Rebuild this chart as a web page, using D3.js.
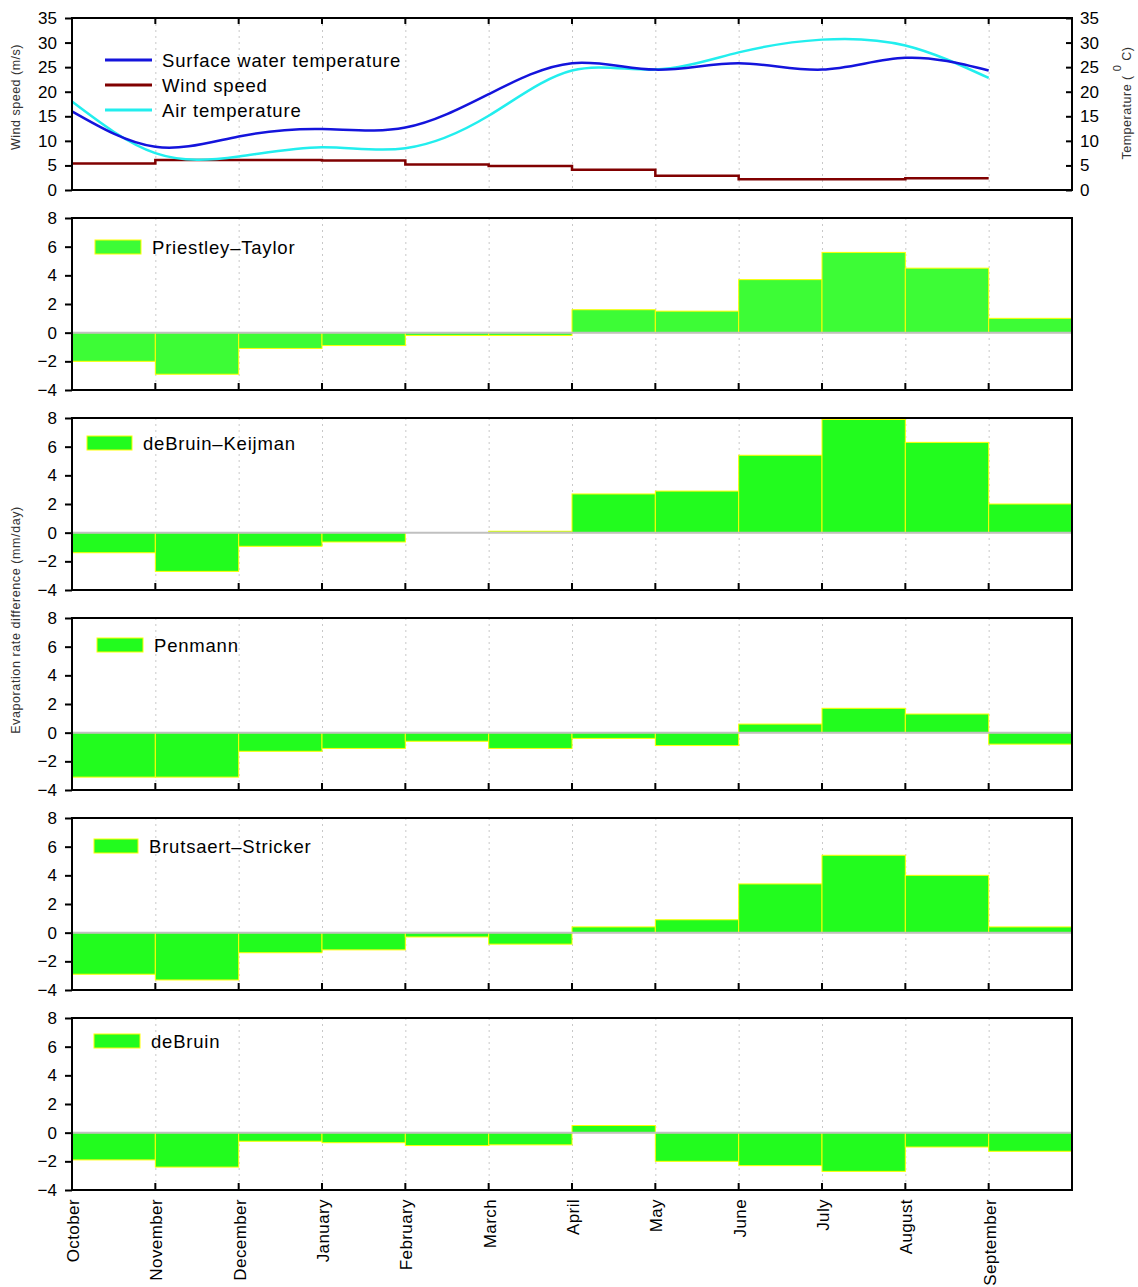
<!DOCTYPE html>
<html>
<head>
<meta charset="utf-8">
<script src="https://cdn.jsdelivr.net/npm/d3@7"></script>
<style>
  html, body { margin: 0; padding: 0; background: #fff; }
  svg { display: block; font-family: "Liberation Sans", Arial, sans-serif; }
</style>
</head>
<body>
<svg id="chart" width="1138" height="1287"></svg>
<script>
// ---- data ----
const months = ["October","November","December","January","February","March",
                "April","May","June","July","August","September"];

const waterTemp = [16.0, 8.8, 10.9, 12.4, 12.7, 19.5, 25.8, 24.5, 25.8, 24.5, 26.9, 24.3];
const airTemp   = [18.0, 7.5, 6.8, 8.7, 8.5, 15.1, 24.3, 24.5, 28.0, 30.6, 29.4, 22.8];
const windSpeed = [5.4, 6.1, 6.1, 6.0, 5.2, 4.9, 4.1, 2.9, 2.2, 2.2, 2.4, 2.4];

const topTicks = [0, 5, 10, 15, 20, 25, 30, 35];
const barTicks = [-4, -2, 0, 2, 4, 6, 8];

const methodNames = ["Priestley\u2013Taylor", "deBruin\u2013Keijman", "Penmann",
                     "Brutsaert\u2013Stricker", "deBruin"];
const priestleyTaylor    = [-2.0, -2.9, -1.1, -0.9, -0.2, -0.2, 1.6, 1.5, 3.7, 5.6, 4.5, 1.0];
const deBruinKeijman     = [-1.4, -2.7, -0.95, -0.65, 0.0, 0.1, 2.7, 2.9, 5.4, 7.9, 6.3, 2.0];
const penmann            = [-3.1, -3.1, -1.3, -1.1, -0.6, -1.1, -0.4, -0.9, 0.6, 1.7, 1.3, -0.8];
const brutsaertStricker  = [-2.9, -3.3, -1.4, -1.2, -0.3, -0.8, 0.4, 0.9, 3.4, 5.4, 4.0, 0.4];
const deBruin            = [-1.9, -2.4, -0.6, -0.7, -0.9, -0.85, 0.5, -2.0, -2.3, -2.7, -1.0, -1.3];
const methodSeries = [priestleyTaylor, deBruinKeijman, penmann, brutsaertStricker, deBruin];

// ---- layout ----
const svg = d3.select("#chart");
const X0 = 72, X1 = 1072;
const x = d3.scaleBand().domain(months).range([X0, X1]).paddingInner(0).paddingOuter(0);
const bw = x.bandwidth();

const font = "Liberation Sans, Arial, sans-serif";

function grid(g, yTop, yBot) {
  g.selectAll("line.grid").data(months.slice(1)).join("line")
    .attr("class", "grid")
    .attr("x1", d => x(d) + 0.5).attr("x2", d => x(d) + 0.5)
    .attr("y1", yTop).attr("y2", yBot)
    .attr("stroke", "#c8c8c8").attr("stroke-width", 1)
    .attr("stroke-dasharray", "2,4");
}

// ---- top panel ----
{
  const top = 18, bot = 190;
  const y = d3.scaleLinear().domain([0, 35]).range([bot, top]);
  const g = svg.append("g");
  grid(g, top, bot);

  const line = d3.line().x((d, i) => x(months[i])).y(d => y(d)).curve(d3.curveNatural);
  const step = d3.line().x((d, i) => x(months[i])).y(d => y(d)).curve(d3.curveStepAfter);

  g.append("path").datum(windSpeed).attr("d", step)
    .attr("fill", "none").attr("stroke", "#800000").attr("stroke-width", 2.5);
  g.append("path").datum(airTemp).attr("d", line)
    .attr("fill", "none").attr("stroke", "#22eeee").attr("stroke-width", 2.5);
  g.append("path").datum(waterTemp).attr("d", line)
    .attr("fill", "none").attr("stroke", "#1414dc").attr("stroke-width", 2.5);

  // frame
  g.append("rect").attr("x", X0).attr("y", top).attr("width", X1 - X0).attr("height", bot - top)
    .attr("fill", "none").attr("stroke", "#000").attr("stroke-width", 2);

  // top ticks at month boundaries
  g.selectAll("line.tt").data(months.slice(1)).join("line")
    .attr("x1", d => x(d)).attr("x2", d => x(d))
    .attr("y1", top).attr("y2", top + 6)
    .attr("stroke", "#000").attr("stroke-width", 2);

  const left = d3.axisLeft(y).tickValues(topTicks).tickSize(7).tickPadding(8);
  const ga = g.append("g").attr("transform", `translate(${X0},0)`).call(left);
  ga.select(".domain").remove();
  ga.selectAll("line").attr("stroke-width", 2);
  ga.selectAll("text").attr("font-size", 17).attr("font-family", font).attr("fill", "#000");

  const right = d3.axisRight(y).tickValues(topTicks).tickSize(-6).tickPadding(8);
  const gr = g.append("g").attr("transform", `translate(${X1},0)`).call(right);
  gr.select(".domain").remove();
  gr.selectAll("line").attr("stroke-width", 2);
  gr.selectAll("text").attr("font-size", 17).attr("font-family", font).attr("fill", "#000");

  // legend
  const legend = [
    {name: "Surface water temperature", color: "#1414dc"},
    {name: "Wind speed", color: "#800000"},
    {name: "Air temperature", color: "#22eeee"}
  ];
  legend.forEach((l, i) => {
    const yy = 60 + i * 25;
    g.append("line").attr("x1", 105).attr("x2", 152).attr("y1", yy).attr("y2", yy)
      .attr("stroke", l.color).attr("stroke-width", 3);
    g.append("text").attr("x", 162).attr("y", yy + 6.5).text(l.name)
      .attr("font-size", 18.5).attr("letter-spacing", 0.8)
      .attr("font-family", font).attr("fill", "#000");
  });

  // axis titles
  svg.append("text").attr("transform", "translate(20,97) rotate(-90)")
    .attr("text-anchor", "middle").attr("font-size", 12.5).attr("letter-spacing", 0.5)
    .attr("font-family", font).attr("fill", "#333").text("Wind speed (m/s)");
  const tt = svg.append("text").attr("transform", "translate(1131,103) rotate(-90)")
    .attr("text-anchor", "middle").attr("font-size", 12.5).attr("letter-spacing", 0.5)
    .attr("font-family", font).attr("fill", "#333");
  tt.append("tspan").text("Temperature ( ");
  tt.append("tspan").attr("dy", -10).attr("font-size", 11).text("0");
  tt.append("tspan").attr("dy", 10).text(" C)");
}

// ---- bar panels ----
const barColors = ["#3dfc36", "#22fc1e", "#22fc1e", "#22fc1e", "#22fc1e"];
const legendPos = [
  {bx: 95, by: 240, bw: 46, tx: 152},
  {bx: 87, by: 436, bw: 45, tx: 143},
  {bx: 97, by: 638, bw: 46, tx: 154},
  {bx: 94, by: 839, bw: 44, tx: 149},
  {bx: 94, by: 1034, bw: 46, tx: 151}
];

methodSeries.forEach((vals, p) => {
  const top = 218 + p * 200, bot = 390 + p * 200;
  const y = d3.scaleLinear().domain([-4, 8]).range([bot, top]);
  const g = svg.append("g");
  grid(g, top, bot);

  g.selectAll("rect.bar").data(vals).join("rect")
    .attr("class", "bar")
    .attr("x", (d, i) => x(months[i]))
    .attr("width", bw)
    .attr("y", d => y(Math.max(0, d)))
    .attr("height", d => Math.abs(y(d) - y(0)))
    .attr("fill", barColors[p])
    .attr("stroke", "#ffff00").attr("stroke-width", 1);

  // zero line
  g.append("line").attr("x1", X0).attr("x2", X1).attr("y1", y(0)).attr("y2", y(0))
    .attr("stroke", "#c0c0c0").attr("stroke-width", 2);

  // frame
  g.append("rect").attr("x", X0).attr("y", top).attr("width", X1 - X0).attr("height", bot - top)
    .attr("fill", "none").attr("stroke", "#000").attr("stroke-width", 2);

  // bottom ticks (inward)
  g.selectAll("line.bt").data(months.slice(1)).join("line")
    .attr("x1", d => x(d)).attr("x2", d => x(d))
    .attr("y1", bot).attr("y2", bot - 7)
    .attr("stroke", "#000").attr("stroke-width", 2);

  const left = d3.axisLeft(y).tickValues(barTicks).tickSize(7).tickPadding(8);
  const ga = g.append("g").attr("transform", `translate(${X0},0)`).call(left);
  ga.select(".domain").remove();
  ga.selectAll("line").attr("stroke-width", 2);
  ga.selectAll("text").attr("font-size", 17).attr("font-family", font).attr("fill", "#000");

  // legend
  const lp = legendPos[p];
  g.append("rect").attr("x", lp.bx).attr("y", lp.by).attr("width", lp.bw).attr("height", 14)
    .attr("fill", barColors[p]).attr("stroke", "#ffff00").attr("stroke-width", 1);
  g.append("text").attr("x", lp.tx).attr("y", lp.by + 14).text(methodNames[p])
    .attr("font-size", 18.5).attr("letter-spacing", 0.8)
    .attr("font-family", font).attr("fill", "#000");

  if (p === methodSeries.length - 1) {
    g.selectAll("text.month").data(months).join("text")
      .attr("class", "month")
      .attr("transform", d => `translate(${x(d) + 7},${bot + 9}) rotate(-90)`)
      .attr("text-anchor", "end")
      .attr("font-size", 17).attr("letter-spacing", 0.4)
      .attr("font-family", font).attr("fill", "#000")
      .text(d => d);
  }
});

svg.append("text").attr("transform", "translate(20,620) rotate(-90)")
  .attr("text-anchor", "middle").attr("font-size", 12.5).attr("letter-spacing", 0.6)
  .attr("font-family", font).attr("fill", "#333").text("Evaporation rate difference (mm/day)");
</script>
</body>
</html>
